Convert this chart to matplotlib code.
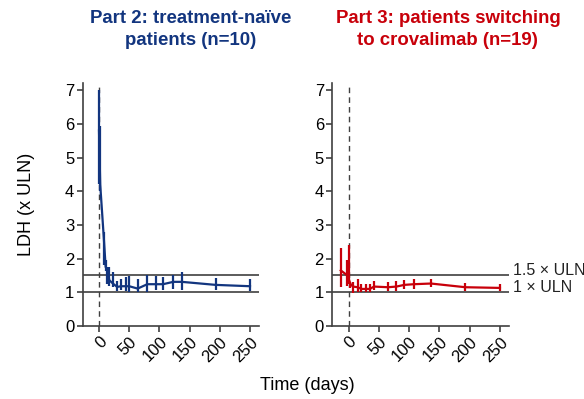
import numpy as np
import matplotlib.pyplot as plt

plt.rcParams['font.family'] = ['Liberation Sans', 'DejaVu Sans']

# Part 2: treatment-naive patients (mean LDH, lower / upper bound)
naive_days = [0, 2, 8, 11, 14, 17, 23, 30, 37, 44, 50, 64, 80, 95, 106, 123, 137, 193, 250]
naive_mean = [5.8, 4.2, 2.6, 1.75, 1.66, 1.36, 1.26, 1.16, 1.18, 1.18, 1.18, 1.11, 1.24, 1.24, 1.24, 1.31, 1.31, 1.22, 1.18]
naive_lo = [4.2, 4.0, 1.8, 1.62, 1.25, 1.2, 1.16, 1.05, 1.06, 1.05, 1.02, 1.02, 1.02, 1.06, 1.06, 1.11, 1.07, 1.06, 1.04]
naive_hi = [7.0, 5.95, 2.8, 1.95, 1.75, 1.75, 1.6, 1.34, 1.38, 1.44, 1.48, 1.38, 1.51, 1.47, 1.45, 1.51, 1.61, 1.41, 1.38]

# Part 3: patients switching to crovalimab
switch_days = [-13, -2, 0, 3, 7, 15, 21, 28, 35, 42, 65, 79, 92, 108, 136, 193, 250]
switch_mean = [1.65, 1.5, 1.4, 1.25, 1.17, 1.15, 1.1, 1.1, 1.1, 1.17, 1.15, 1.17, 1.22, 1.24, 1.26, 1.15, 1.13]
switch_lo = [1.15, 1.2, 1.25, 1.12, 0.98, 1.02, 1.0, 1.0, 1.0, 1.07, 1.05, 1.05, 1.1, 1.1, 1.16, 1.05, 1.04]
switch_hi = [2.3, 1.95, 2.4, 1.3, 1.3, 1.4, 1.25, 1.25, 1.25, 1.34, 1.32, 1.33, 1.37, 1.4, 1.38, 1.28, 1.26]

uln_levels = [1.0, 1.5]
uln_labels = ['1 × ULN', '1.5 × ULN']

blue = '#12357f'
red = '#c8000a'
grey = '#404040'

fig = plt.figure(figsize=(5.84, 3.99), dpi=100)
ax1 = fig.add_axes([0.1416, 0.183, 0.302, 0.608])
ax2 = fig.add_axes([0.569, 0.183, 0.3026, 0.608])


def draw_panel(ax, days, mean, lo, hi, color):
    days = np.array(days)
    mean = np.array(mean)
    yerr = [mean - np.array(lo), np.array(hi) - mean]
    for lvl in uln_levels:
        ax.axhline(lvl, color=grey, lw=1.2, zorder=1)
    ax.axvline(0, color=grey, lw=1.0, ls=(0, (4, 3)), zorder=1)
    ax.errorbar(days, mean, yerr=yerr, color=color, lw=1.6, elinewidth=1.6,
                capsize=0, zorder=3)
    ax.set_xlim(-27, 265)
    ax.set_ylim(0, 7.2)
    ax.set_yticks(range(0, 8))
    ax.set_xticks([0, 50, 100, 150, 200, 250])
    ax.tick_params(labelsize=12, color=grey, length=4, width=1.2, pad=2)
    for lab in ax.get_xticklabels():
        lab.set_rotation(45)
        lab.set_ha('right')
        lab.set_rotation_mode('anchor')
    for s in ['top', 'right']:
        ax.spines[s].set_visible(False)
    for s in ['left', 'bottom']:
        ax.spines[s].set_color(grey)
        ax.spines[s].set_linewidth(1.2)


draw_panel(ax1, naive_days, naive_mean, naive_lo, naive_hi, blue)
draw_panel(ax2, switch_days, switch_mean, switch_lo, switch_hi, red)

# two-line panel headings
titles = [(0.326, blue, 'Part 2: treatment-naïve', 'patients (n=10)'),
          (0.767, red, 'Part 3: patients switching', 'to crovalimab (n=19)')]
for xc, color, line1, line2 in titles:
    fig.text(xc, 0.9416, line1, color=color, fontsize=13.4, fontweight='bold',
             ha='center', va='baseline')
    fig.text(xc, 0.887, line2, color=color, fontsize=13.4, fontweight='bold',
             ha='center', va='baseline')

for lvl, lab in zip(uln_levels, uln_labels):
    ax2.text(1.02, lvl, lab, transform=ax2.get_yaxis_transform(),
             fontsize=11.5, color='#222222', va='baseline', ha='left')

ax1.set_ylabel('LDH (x ULN)', fontsize=13)
ax1.yaxis.set_label_coords(-0.27, 0.5)
fig.text(0.527, 0.035, 'Time (days)', fontsize=13, ha='center', va='center')

fig.savefig('out.png', dpi=100)
